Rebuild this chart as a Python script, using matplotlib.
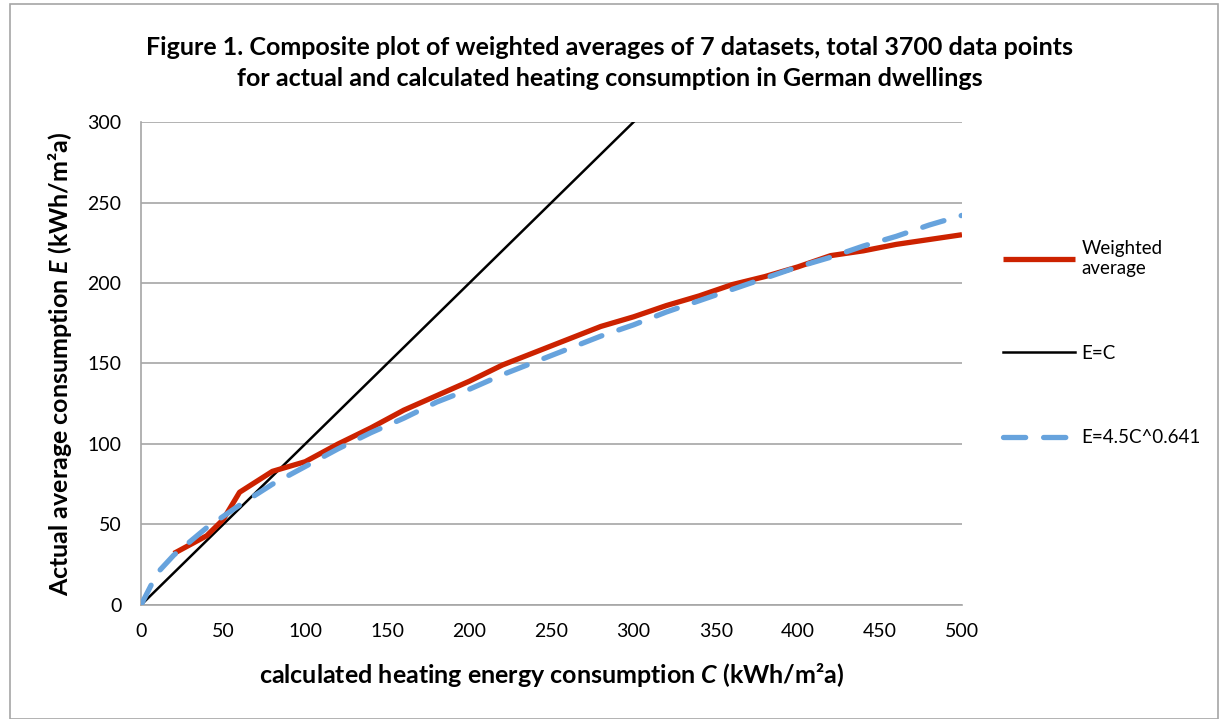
import matplotlib.pyplot as plt
from matplotlib.patches import Rectangle

plt.rcParams["font.family"] = ["Lato", "DejaVu Sans"]
plt.rcParams["mathtext.fontset"] = "custom"
plt.rcParams["mathtext.it"] = "Lato:style=italic:weight=bold"
plt.rcParams["mathtext.rm"] = "Lato:weight=bold"

# weighted average of the datasets
avg_c = [20, 40, 50, 60, 80, 100, 120, 140, 160, 180, 200, 220, 240, 260, 280,
         300, 320, 340, 360, 380, 400, 420, 440, 460, 480, 500]
avg_e = [32, 43, 53, 70, 83, 89, 100, 110, 121, 130, 139, 149, 157, 165, 173,
         179, 186, 192, 199, 204, 210, 217, 220, 224, 227, 230]

# E = C reference line
eq_c = [0, 300]
eq_e = [0, 300]

# fitted power curve E=4.5C^0.641
fit_c = [0, 10, 20, 40, 60, 80, 100, 120, 140, 160, 180, 200, 220, 240, 260,
         280, 300, 320, 340, 360, 380, 400, 420, 440, 460, 480, 500]
fit_e = [0, 20, 31, 48, 62, 75, 86, 97, 107, 116, 126, 134, 143, 151, 159,
         167, 174, 182, 189, 196, 203, 210, 216, 223, 229, 236, 242]

fig = plt.figure(figsize=(12.2, 7.19), dpi=100)
ax = fig.add_axes([0.1156, 0.1586, 0.6729, 0.6717])

ax.plot(avg_c, avg_e, color="#cc2200", lw=3.8, solid_capstyle="butt",
        label="Weighted\naverage", zorder=3)
ax.plot(eq_c, eq_e, color="black", lw=1.8, label="E=C", zorder=2)
ax.plot(fit_c, fit_e, color="#67a3dd", lw=3.8, dashes=(4.2, 3.4),
        dash_capstyle="round", label="E=4.5C^0.641", zorder=4)

ax.set_xlim(0, 500)
ax.set_ylim(0, 300)
ax.set_xticks(range(0, 501, 50))
ax.set_yticks(range(0, 301, 50))
ax.tick_params(axis="x", length=0, labelsize=14, pad=13)
ax.tick_params(axis="y", length=0, labelsize=14, pad=14)
ax.grid(axis="y", color="#a6a6a6", lw=1.2)
ax.set_axisbelow(True)
for s in ["top", "right"]:
    ax.spines[s].set_visible(False)
for s in ["left", "bottom"]:
    ax.spines[s].set_color("#a6a6a6")
    ax.spines[s].set_linewidth(1.2)

ax.set_xlabel("calculated heating energy consumption $C$ (kWh/m²a)",
              fontsize=18, fontweight="bold", labelpad=15)
ax.set_ylabel("Actual average consumption $E$ (kWh/m²a)",
              fontsize=18, fontweight="bold", labelpad=10)

fig.suptitle("Figure 1. Composite plot of weighted averages of 7 datasets, total 3700 data points\n"
             "for actual and calculated heating consumption in German dwellings",
             x=0.5, y=0.95, fontsize=18, fontweight="bold", linespacing=1.45)

ax.legend(loc="upper left", bbox_to_anchor=(1.03, 0.79), frameon=False,
          fontsize=13.5, handlelength=3.8, labelspacing=3.6, handletextpad=0.35)

fig.patches.append(Rectangle((0.008, 0.0), 0.99, 0.995, transform=fig.transFigure,
                             fill=False, edgecolor="#a6a6a6", lw=1.2))

plt.savefig("out.png", dpi=100)
